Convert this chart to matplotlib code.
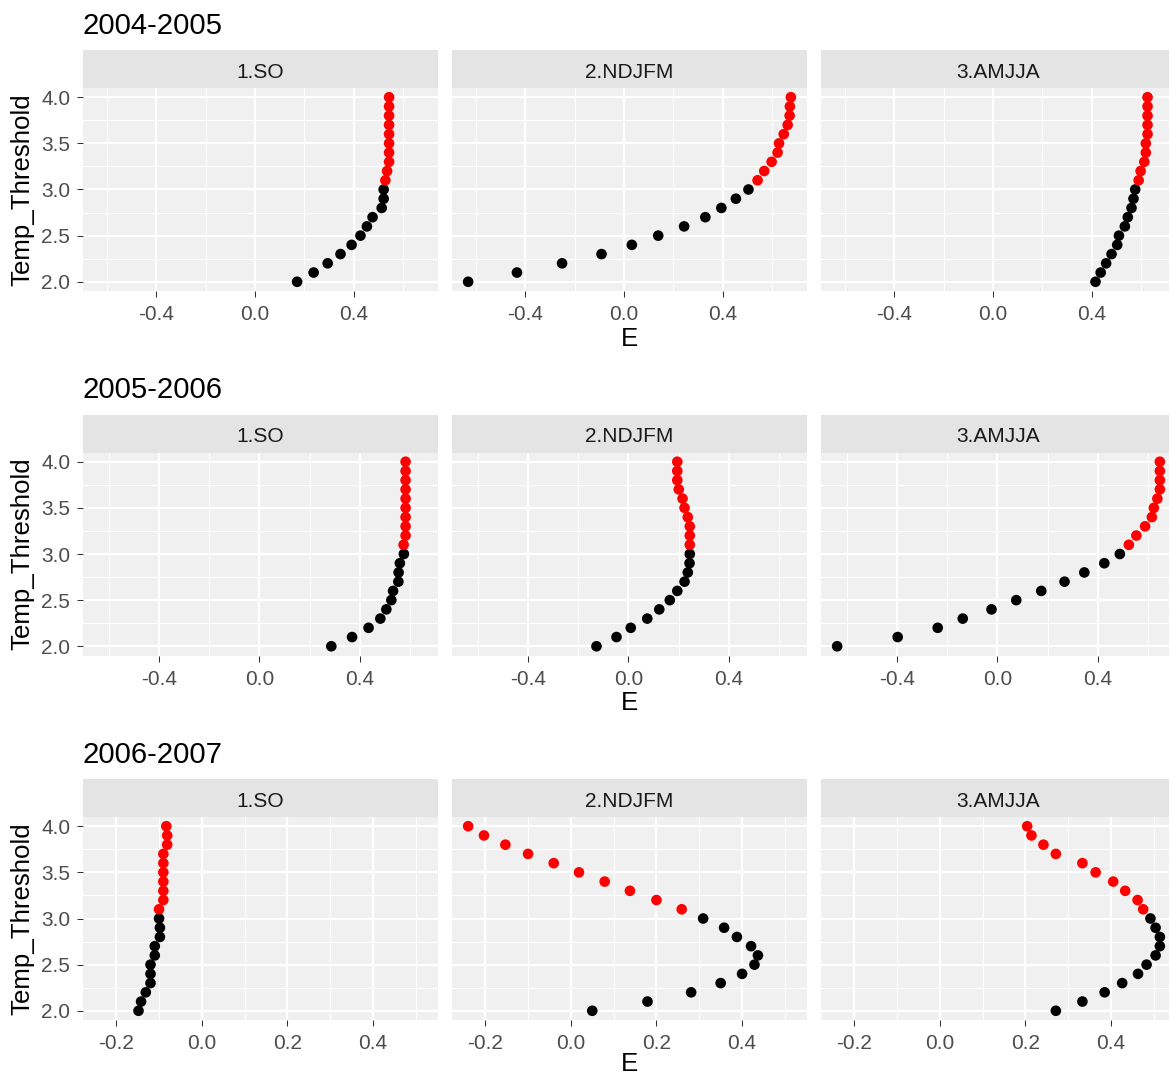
import matplotlib.pyplot as plt

W, H, DPI = 1169, 1077, 150
plt.rcParams['font.family'] = ['Liberation Sans', 'DejaVu Sans']

temp_threshold = [2.0, 2.1, 2.2, 2.3, 2.4, 2.5, 2.6, 2.7, 2.8, 2.9, 3.0,
                  3.1, 3.2, 3.3, 3.4, 3.5, 3.6, 3.7, 3.8, 3.9, 4.0]
years = ["2004-2005", "2005-2006", "2006-2007"]
seasons = ["1.SO", "2.NDJFM", "3.AMJJA"]

# E per season, one value per threshold (2.0 -> 4.0)
so_0405 = [0.171, 0.238, 0.295, 0.347, 0.392, 0.428, 0.454, 0.477, 0.514, 0.522, 0.522,
           0.529, 0.536, 0.544, 0.544, 0.544, 0.544, 0.544, 0.544, 0.544, 0.544]
ndjfm_0405 = [-0.632, -0.434, -0.251, -0.091, 0.032, 0.139, 0.244, 0.330, 0.395, 0.454, 0.505,
              0.542, 0.569, 0.599, 0.623, 0.629, 0.648, 0.664, 0.672, 0.673, 0.677]
amjja_0405 = [0.416, 0.437, 0.459, 0.481, 0.504, 0.511, 0.535, 0.547, 0.562, 0.570, 0.577,
              0.591, 0.599, 0.614, 0.620, 0.620, 0.627, 0.627, 0.627, 0.627, 0.627]

so_0506 = [0.287, 0.370, 0.436, 0.483, 0.507, 0.527, 0.534, 0.555, 0.556, 0.561, 0.577,
           0.576, 0.584, 0.584, 0.584, 0.584, 0.584, 0.584, 0.584, 0.584, 0.584]
ndjfm_0506 = [-0.128, -0.048, 0.009, 0.075, 0.123, 0.165, 0.195, 0.224, 0.237, 0.244, 0.245,
              0.245, 0.245, 0.245, 0.237, 0.224, 0.216, 0.201, 0.195, 0.195, 0.195]
amjja_0506 = [-0.641, -0.399, -0.239, -0.139, -0.024, 0.075, 0.175, 0.268, 0.347, 0.427, 0.489,
              0.525, 0.555, 0.590, 0.617, 0.625, 0.639, 0.649, 0.649, 0.649, 0.649]

so_0607 = [-0.148, -0.142, -0.131, -0.120, -0.120, -0.120, -0.110, -0.110, -0.098, -0.098, -0.100,
           -0.100, -0.090, -0.090, -0.090, -0.090, -0.090, -0.090, -0.081, -0.081, -0.083]
ndjfm_0607 = [0.050, 0.179, 0.281, 0.350, 0.400, 0.429, 0.437, 0.421, 0.388, 0.358, 0.309,
              0.259, 0.200, 0.138, 0.079, 0.019, -0.040, -0.100, -0.153, -0.203, -0.240]
amjja_0607 = [0.271, 0.333, 0.385, 0.426, 0.463, 0.483, 0.504, 0.514, 0.514, 0.504, 0.492,
              0.475, 0.462, 0.433, 0.405, 0.364, 0.333, 0.271, 0.242, 0.214, 0.204]

rows = [
    [so_0405, ndjfm_0405, amjja_0405],
    [so_0506, ndjfm_0506, amjja_0506],
    [so_0607, ndjfm_0607, amjja_0607],
]
x_major = [[-0.4, 0.0, 0.4], [-0.4, 0.0, 0.4], [-0.2, 0.0, 0.2, 0.4]]
y_major = [2.0, 2.5, 3.0, 3.5, 4.0]
y_minor = [2.25, 2.75, 3.25, 3.75]

PANEL_BG = "#F0F0F0"
STRIP_BG = "#E4E4E4"


def px_axes(fig, x0, y0, x1, y1):
    # pixel box (top-left origin) -> figure axes
    return fig.add_axes([x0 / W, 1 - y1 / H, (x1 - x0) / W, (y1 - y0) / H])


fig = plt.figure(figsize=(W / DPI, H / DPI), dpi=DPI)

col_x = [83, 452, 821]
panel_w = 355
point_colors = ["red" if t > 3.0 else "black" for t in temp_threshold]

for r, (year, series) in enumerate(zip(years, rows)):
    off = r * 364.5
    strip_top, panel_top, panel_bot = 50 + off, 88 + off, 291 + off

    allx = [v for s in series for v in s]
    lo, hi = min(allx), max(allx)
    pad = (hi - lo) * 0.05
    xlim = (lo - pad, hi + pad)
    majors = x_major[r]
    step = majors[1] - majors[0]
    minors = [m + step / 2 for m in [majors[0] - step] + majors]
    minors = [m for m in minors if xlim[0] <= m <= xlim[1]]

    for c, (season, vals) in enumerate(zip(seasons, series)):
        x0 = col_x[c]
        ax = px_axes(fig, x0, panel_top, x0 + panel_w, panel_bot)
        ax.set_facecolor(PANEL_BG)
        for sp in ax.spines.values():
            sp.set_visible(False)
        ax.set_xticks(majors)
        ax.set_xticklabels([f"{v:.1f}" for v in majors])
        ax.set_xticks(minors, minor=True)
        ax.set_yticks(y_major)
        ax.set_yticks(y_minor, minor=True)
        if c == 0:
            ax.set_yticklabels([f"{v:.1f}" for v in y_major])
        else:
            ax.set_yticklabels([])
        ax.set_xlim(*xlim)
        ax.set_ylim(1.9, 4.1)
        ax.tick_params(which="major", length=2.75, width=0.5, color="#333333",
                       labelcolor="#4D4D4D", labelsize=10)
        ax.tick_params(axis="x", which="major", pad=4.0)
        ax.tick_params(axis="y", which="major", pad=3.4, length=0 if c else 2.75)
        ax.tick_params(which="minor", length=0)
        ax.grid(True, which="major", color="white", linewidth=1.07)
        ax.grid(True, which="minor", color="white", linewidth=0.53)
        ax.set_axisbelow(True)
        ax.scatter(vals, temp_threshold, c=point_colors, s=26, linewidths=0, zorder=3)

        sax = px_axes(fig, x0, strip_top, x0 + panel_w, panel_top)
        sax.set_facecolor(STRIP_BG)
        sax.set_xticks([])
        sax.set_yticks([])
        for sp in sax.spines.values():
            sp.set_visible(False)
        sax.text(0.5, 0.42, season, ha="center", va="center", fontsize=10,
                 color="#1A1A1A", transform=sax.transAxes)

    fig.text(83 / W, 1 - (34 + off) / H, year, fontsize=14.1, ha="left", va="baseline")
    e_y = min(339 + off, 1064)
    fig.text(629.5 / W, 1 - e_y / H, "E", fontsize=12.4, ha="center", va="center")
    fig.text(22 / W, 1 - (189.5 + off) / H, "Temp_Threshold", fontsize=12.4,
             rotation=90, ha="center", va="center")

fig.savefig("out.png", dpi=DPI)
